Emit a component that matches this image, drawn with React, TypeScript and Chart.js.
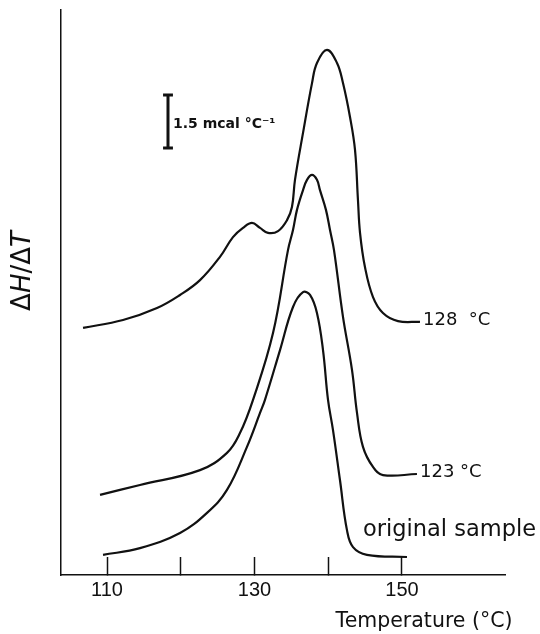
import { useEffect, useRef } from "react";
import { Chart, registerables } from "chart.js";

Chart.register(...registerables);

// Temperature (°C) and ΔH/ΔT (mcal °C⁻¹, arbitrary offset) for each annealing run
const temps128 = [106.75, 112.17, 116.78, 119.9, 122.61, 125.32, 127.08, 128.44, 129.66, 130.75, 131.83, 133.19, 134.41, 135.08, 135.49, 136.58, 137.8, 138.47, 139.83, 141.19, 142.0, 142.95, 143.63, 144.03, 144.31, 144.98, 146.07, 147.42, 149.46, 152.44];
const vals128 = [7.0, 7.22, 7.56, 7.93, 8.35, 9.01, 9.57, 9.83, 9.97, 9.83, 9.69, 9.74, 10.05, 10.42, 11.19, 12.52, 13.93, 14.5, 14.87, 14.5, 13.93, 12.97, 12.04, 10.62, 9.69, 8.72, 7.87, 7.42, 7.19, 7.17];

const temps123 = [109.05, 114.47, 122.61, 126.27, 128.03, 129.8, 132.51, 134.54, 135.22, 135.76, 136.58, 137.12, 137.8, 138.47, 138.88, 139.69, 140.24, 140.78, 142.0, 143.22, 143.9, 144.71, 146.07, 147.42, 152.03];
const vals123 = [2.27, 2.55, 2.97, 3.46, 4.02, 4.96, 6.85, 9.2, 9.77, 10.34, 10.9, 11.19, 11.33, 11.19, 10.9, 10.34, 9.77, 9.2, 7.31, 5.81, 4.59, 3.63, 3.06, 2.83, 2.86];

const tempsOrig = [109.46, 114.47, 119.9, 123.56, 126.27, 128.98, 130.75, 131.42, 133.46, 135.22, 136.58, 137.53, 138.47, 139.29, 139.97, 140.64, 141.59, 142.54, 143.36, 145.25, 150.68];
const valsOrig = [0.57, 0.76, 1.19, 1.76, 2.41, 3.63, 4.59, 4.96, 6.37, 7.59, 8.01, 7.93, 7.42, 6.37, 4.96, 4.11, 2.69, 1.27, 0.79, 0.57, 0.51];

// scale bar: 1.5 mcal °C⁻¹
const scaleBarT = [117.6, 118.94, 118.27, 118.27, 117.6, 118.94];
const scaleBarV = [13.59, 13.59, 13.59, 12.09, 12.09, 12.09];
const scaleBarLabel = "1.5 mcal °C⁻¹";
const scaleLabelT = 118.95;
const scaleLabelV = 12.66;

const curveLabels = ["128  °C", "123 °C", "original sample"];
const curveLabelT = [152.85, 152.44, 144.71];
const curveLabelV = [7.08, 2.78, 1.1];

const xTicks = [110, 120, 130, 140, 150];
const xTickLabels = ["110", "", "130", "", "150"];
const xTitle = "Temperature (°C)";
const xTitleT = 141.0;
const xMin = 103.76;
const xMax = 163.97;
const yMin = 0;
const yMax = 16;

const INK = "#111";

export default function App() {
  const ref = useRef<HTMLCanvasElement>(null);

  useEffect(() => {
    const canvas = ref.current;
    if (!canvas) return;
    const mk = (ts: number[], vs: number[]) => ts.map((t, i) => ({ x: t, y: vs[i] }));

    const textPlugin = {
      id: "texts",
      afterDraw(chart: any) {
        const { ctx, chartArea } = chart;
        const xs = chart.scales.x;
        const ys = chart.scales.y;
        ctx.save();
        ctx.fillStyle = INK;
        ctx.textAlign = "left";
        ctx.textBaseline = "alphabetic";
        curveLabels.forEach((s, i) => {
          ctx.font = i === 2 ? '22.5px "DejaVu Sans"' : '18px "DejaVu Sans"';
          ctx.fillText(s, xs.getPixelForValue(curveLabelT[i]), ys.getPixelForValue(curveLabelV[i]));
        });
        ctx.font = 'bold 14px "DejaVu Sans"';
        ctx.fillText(scaleBarLabel, xs.getPixelForValue(scaleLabelT), ys.getPixelForValue(scaleLabelV));
        ctx.font = '20.5px "DejaVu Sans"';
        ctx.fillText(xTitle, xs.getPixelForValue(xTitleT), chartArea.bottom + 52);

        // y title ΔH/ΔT with italic H and T
        const parts: [string, boolean][] = [["Δ", false], ["H", true], ["/", false], ["Δ", false], ["T", true]];
        const fontFor = (it: boolean) => `${it ? "italic " : ""}26px "DejaVu Sans"`;
        let total = 0;
        const widths = parts.map(([s, it]) => {
          ctx.font = fontFor(it);
          const w = ctx.measureText(s).width;
          total += w;
          return w;
        });
        ctx.translate(chartArea.left - 38, chartArea.top + 261);
        ctx.rotate(-Math.PI / 2);
        ctx.textBaseline = "middle";
        let px = -total / 2;
        parts.forEach(([s, it], i) => {
          ctx.font = fontFor(it);
          ctx.fillText(s, px, 0);
          px += widths[i];
        });
        ctx.restore();
      },
    };

    const lineStyle = {
      borderColor: INK,
      borderWidth: 2.2,
      pointRadius: 0,
      fill: false,
      tension: 0.4,
    };

    const chart = new Chart(canvas, {
      type: "line",
      data: {
        datasets: [
          { label: "128 °C", data: mk(temps128, vals128), ...lineStyle },
          { label: "123 °C", data: mk(temps123, vals123), ...lineStyle },
          { label: "original sample", data: mk(tempsOrig, valsOrig), ...lineStyle },
          {
            label: "scale",
            data: mk(scaleBarT, scaleBarV),
            borderColor: INK,
            borderWidth: 3,
            pointRadius: 0,
            tension: 0,
            fill: false,
          },
        ],
      },
      options: {
        responsive: false,
        devicePixelRatio: 1,
        animation: false,
        layout: { padding: { top: 10, right: 35, left: 0, bottom: 0 } },
        plugins: { legend: { display: false }, tooltip: { enabled: false } },
        scales: {
          x: {
            type: "linear",
            min: xMin,
            max: xMax,
            afterFit: (s: any) => {
              s.height = 59;
            },
            afterBuildTicks: (s: any) => {
              s.ticks = xTicks.map((v) => ({ value: v }));
            },
            ticks: {
              autoSkip: false,
              maxRotation: 0,
              padding: 21,
              color: INK,
              font: { family: '"Liberation Sans"', size: 20 },
              callback: (v: any) => {
                const i = xTicks.indexOf(Number(v));
                return i >= 0 ? xTickLabels[i] : "";
              },
            },
            grid: {
              display: true,
              drawOnChartArea: false,
              drawTicks: true,
              tickLength: -18,
              tickWidth: 1.5,
              tickColor: INK,
            },
            border: { display: true, color: INK, width: 1.5 },
          },
          y: {
            min: yMin,
            max: yMax,
            afterFit: (s: any) => {
              s.width = 61;
            },
            ticks: { display: false },
            grid: { display: false },
            border: { display: true, color: INK, width: 1.5 },
          },
        },
      },
      plugins: [textPlugin],
    });
    return () => chart.destroy();
  }, []);

  return (
    <div style={{ position: "absolute", left: 0, top: 0, width: 540, height: 634, background: "#fff" }}>
      <canvas ref={ref} width={540} height={634} style={{ display: "block" }} />
    </div>
  );
}
